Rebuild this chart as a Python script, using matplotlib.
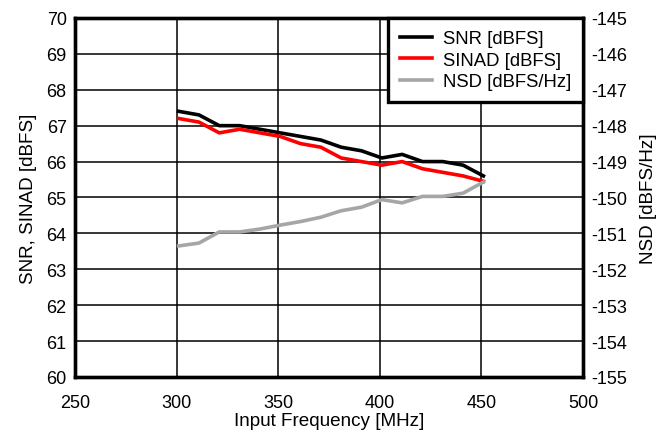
import matplotlib.pyplot as plt

plt.rcParams['font.family'] = ['Liberation Sans', 'DejaVu Sans']
plt.rcParams['axes.unicode_minus'] = False

freq = [301, 311, 321, 331, 341, 351, 361, 371, 381, 391, 401, 411, 421, 431, 441, 451]
snr = [67.4, 67.3, 67.0, 67.0, 66.9, 66.8, 66.7, 66.6, 66.4, 66.3, 66.1, 66.2, 66.0, 66.0, 65.9, 65.6]
sinad = [67.2, 67.1, 66.8, 66.9, 66.8, 66.7, 66.5, 66.4, 66.1, 66.0, 65.9, 66.0, 65.8, 65.7, 65.6, 65.45]
nsd = [-151.35, -151.27, -150.96, -150.96, -150.88, -150.77, -150.67, -150.55, -150.37, -150.27,
       -150.06, -150.15, -149.97, -149.97, -149.88, -149.57]

fig = plt.figure(figsize=(6.58, 4.31), dpi=100)
ax = fig.add_axes([0.114, 0.123, 0.772, 0.833])
ax2 = ax.twinx()

l1, = ax.plot(freq, snr, color='black', lw=2.6, label='SNR [dBFS]')
l2, = ax.plot(freq, sinad, color='#ff0000', lw=2.6, label='SINAD [dBFS]')
l3, = ax2.plot(freq, nsd, color='#a6a6a6', lw=2.6, label='NSD [dBFS/Hz]')

ax.set_xlim(250, 500)
ax.set_ylim(60, 70)
ax2.set_ylim(-155, -145)
ax.set_xticks(range(250, 501, 50))
ax.set_yticks(range(60, 71))
ax2.set_yticks(range(-155, -144))
ax.grid(True, color='black', lw=1.1)
ax.set_axisbelow(True)

for a in (ax, ax2):
    for s in a.spines.values():
        s.set_linewidth(2.4)
    a.tick_params(labelsize=13, length=0, pad=6)
ax.tick_params(axis='x', pad=12)

ax.set_xlabel('Input Frequency [MHz]', fontsize=13.6, labelpad=1)
ax.set_ylabel('SNR, SINAD [dBFS]', fontsize=13.6, labelpad=7)
ax2.set_ylabel('NSD [dBFS/Hz]', fontsize=13.6, labelpad=9)

leg = ax2.legend(handles=[l1, l2, l3], loc='upper right', fontsize=13.3, frameon=True,
                 fancybox=False, edgecolor='black', framealpha=1, handlelength=1.75,
                 handletextpad=0.55, borderaxespad=0, labelspacing=0.25, borderpad=0.65)
leg.get_frame().set_linewidth(2.4)

fig.savefig('out.png', dpi=100)
